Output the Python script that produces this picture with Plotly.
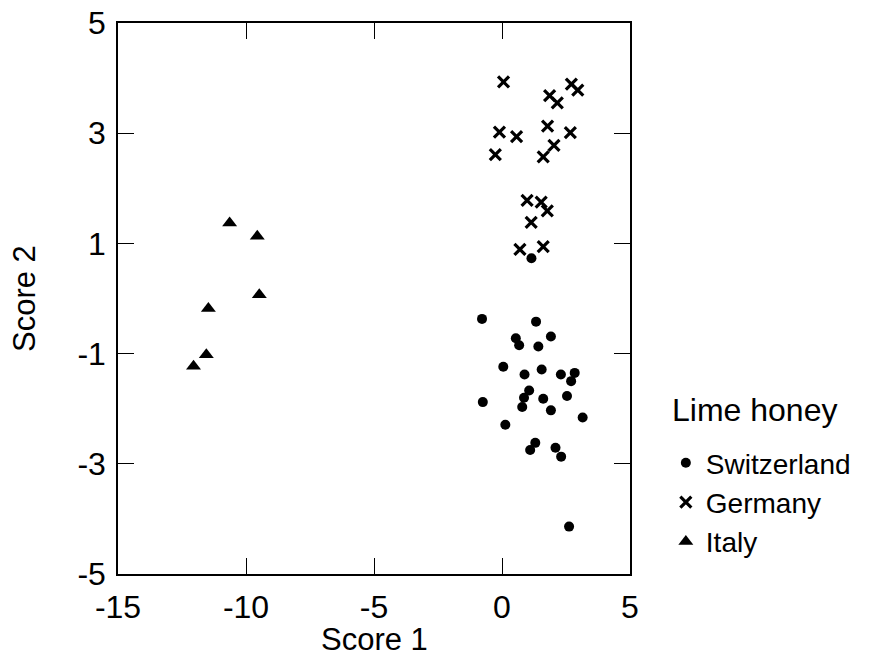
import plotly.graph_objects as go

# Data
swiss_x = [1.15, -0.78, 1.33, 0.54, 0.67, 1.42, 1.91, 0.05, 0.88, 1.55, 2.30, 2.84, 2.70,
           1.06, 0.86, 0.79, 1.61, 2.54, -0.75, 1.91, 3.15, 0.13, 1.30, 1.10, 2.09, 2.31, 2.62]
swiss_y = [0.73, -0.37, -0.42, -0.72, -0.85, -0.87, -0.69, -1.24, -1.38, -1.29, -1.38, -1.35, -1.50,
           -1.67, -1.80, -1.97, -1.82, -1.77, -1.88, -2.03, -2.16, -2.29, -2.62, -2.75, -2.71, -2.87, -4.14]

germany_x = [0.06, 1.86, 2.16, 2.71, 2.96, -0.10, 0.57, -0.26, 1.78, 2.67, 2.03, 1.61,
             0.98, 1.53, 1.77, 1.14, 0.70, 1.61]
germany_y = [3.93, 3.68, 3.55, 3.89, 3.78, 3.02, 2.94, 2.61, 3.13, 3.01, 2.78, 2.57,
             1.78, 1.75, 1.59, 1.38, 0.89, 0.94]

italy_x = [-10.64, -9.56, -9.48, -11.47, -11.55, -12.05]
italy_y = [1.37, 1.13, 0.07, -0.18, -1.02, -1.23]

x_ticks = [-15, -10, -5, 0, 5]
y_ticks = [-5, -3, -1, 1, 3, 5]

x_title = "Score 1"
y_title = "Score 2"
legend_title = "Lime honey"

FONT = "Liberation Sans, Arial, sans-serif"

fig = go.Figure()
fig.add_trace(go.Scatter(x=swiss_x, y=swiss_y, mode="markers", name="Switzerland",
                         marker=dict(symbol="circle", size=10, color="black")))
fig.add_trace(go.Scatter(x=germany_x, y=germany_y, mode="markers", name="Germany",
                         marker=dict(symbol="x-thin", size=11, color="black",
                                     line=dict(width=3.2, color="black"))))
fig.add_trace(go.Scatter(x=italy_x, y=italy_y, mode="markers", name="Italy",
                         marker=dict(symbol="triangle-up", size=13, color="black")))

axis_common = dict(
    showline=True, linecolor="black", linewidth=1.5, mirror="allticks",
    ticks="inside", ticklen=16, tickwidth=1.2, tickcolor="black",
    showgrid=False, zeroline=False, automargin=False,
    ticklabeloverflow="allow",
    tickfont=dict(family=FONT, size=32, color="black"),
)

fig.update_layout(
    width=870, height=662,
    margin=dict(l=110, r=248, t=15, b=96, autoexpand=False),
    paper_bgcolor="white", plot_bgcolor="white",
    font=dict(family=FONT, color="black"),
    xaxis=dict(range=[-15, 5], tickvals=x_ticks, ticktext=[str(v) for v in x_ticks],
               ticklabelstandoff=4, **axis_common),
    yaxis=dict(range=[-5, 5], tickvals=y_ticks, ticktext=[str(v) for v in y_ticks],
               ticklabelstandoff=4, **axis_common),
    legend=dict(
        font=dict(family=FONT, size=28, color="black"),
        x=1.070, xanchor="left", y=0.2468, yanchor="top",
        bgcolor="rgba(0,0,0,0)",
    ),
    annotations=[
        dict(text=x_title, xref="paper", yref="paper", x=0.5, y=-0.118,
             xanchor="center", yanchor="middle", showarrow=False,
             font=dict(family=FONT, size=31, color="black")),
        dict(text=y_title, xref="paper", yref="paper", x=-0.1826, y=0.5,
             xanchor="center", yanchor="middle", showarrow=False, textangle=-90,
             font=dict(family=FONT, size=31, color="black")),
        dict(text=legend_title, xref="paper", yref="paper", x=1.078, y=0.2976,
             xanchor="left", yanchor="middle", showarrow=False,
             font=dict(family=FONT, size=32, color="black")),
    ],
)

fig.write_html("out.html")
